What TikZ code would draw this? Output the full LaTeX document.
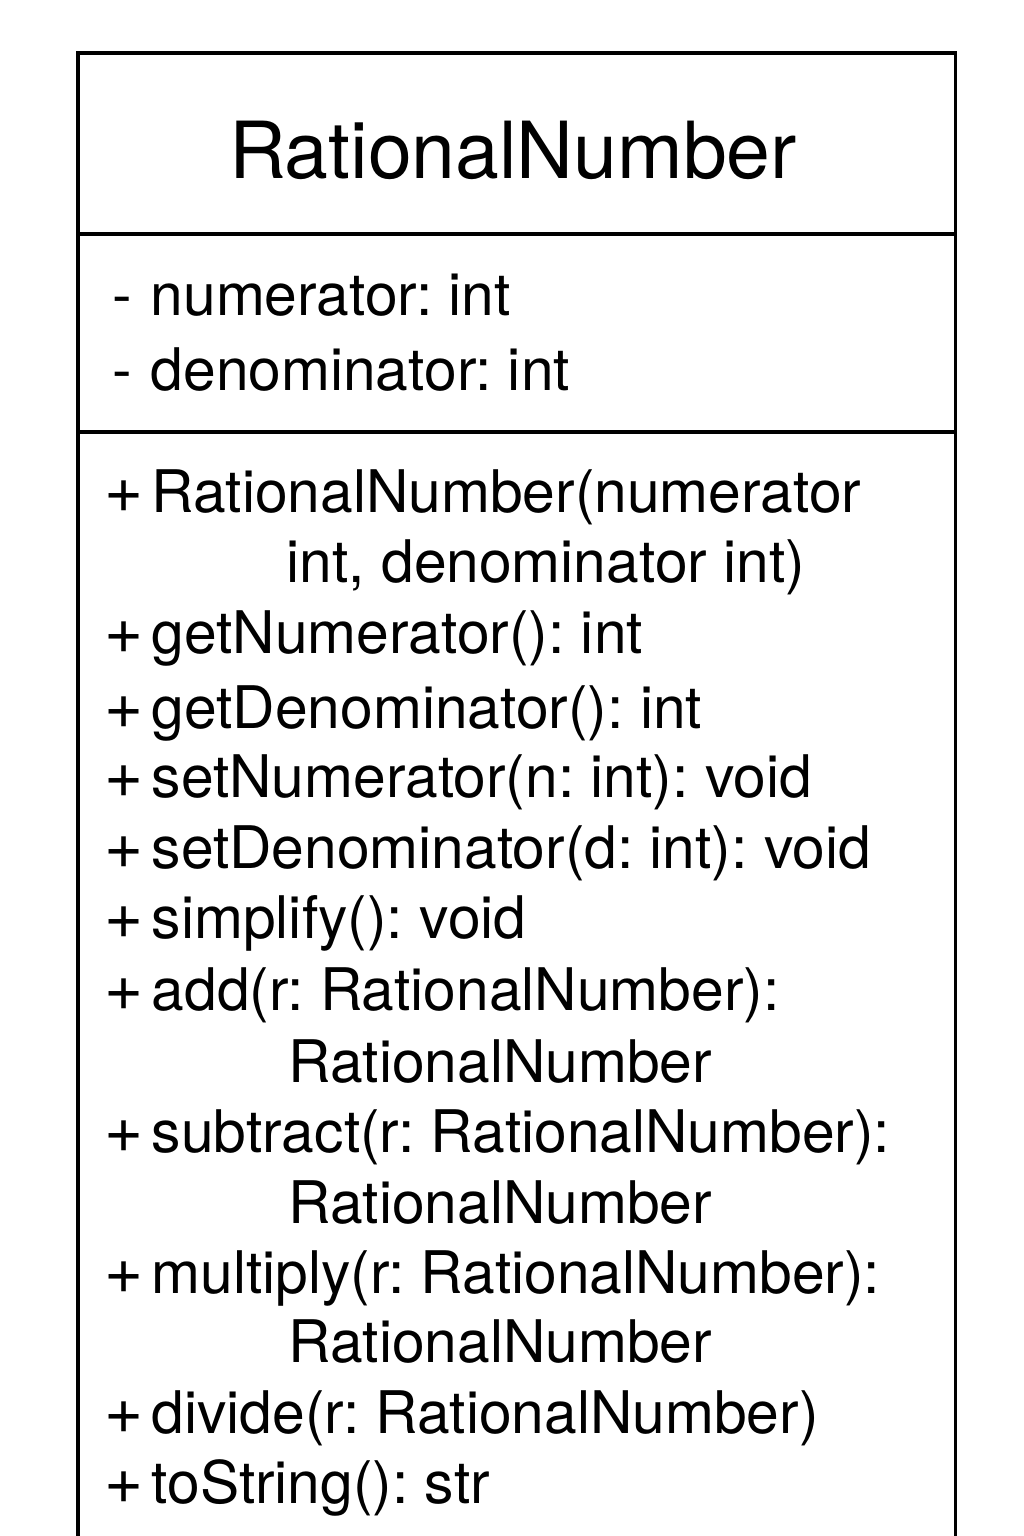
\documentclass[tikz,border=0pt]{standalone}
\usepackage{fontspec}
\setmainfont{TeX Gyre Heros}
\usetikzlibrary{positioning}

\frenchspacing
\newcommand{\visib}[2]{\makebox[#1][l]{#2}}
\newcommand{\pub}{\visib{0.47cm}{\fontsize{19}{19}\selectfont+}}
\newcommand{\priv}{\visib{0.38cm}{-}}

\begin{document}
\begin{tikzpicture}[
  x=0.01cm, y=-0.01cm,
  umlline/.style={line width=0.9pt, draw=black},
  classname/.style={
    font=\fontsize{22.4}{26}\selectfont,
    anchor=base,
    inner sep=0pt
  },
  member/.style={
    font=\fontsize{16.7}{19}\selectfont,
    anchor=base west,
    inner sep=0pt
  }
]
\useasboundingbox (0,0) rectangle (1024,1536);

% Class box (open at the bottom of the page).
\draw[umlline] (78,1536) -- (78,53) -- (955.5,53) -- (955.5,1536);
\draw[umlline] (78,234) -- (955.5,234);
\draw[umlline] (78,432) -- (955.5,432);

% Name compartment.
\node[classname] (cls) at (513,178) {RationalNumber};

% Attributes.
\node[member] (numattr) at (112,315) {\priv numerator: int};
\node[member] (denattr) at (112,390) {\priv denominator: int};

% Operations.
\node[member] (ctor) at (104,512) {\pub RationalNumber(numerator};
\node[member] (ctorb) at (286,582) {int, denominator int)};
\node[member] (getnum) at (104,653) {\pub getNumerator(): int};
\node[member] (getden) at (104,728) {\pub getDenominator(): int};
\node[member] (setnum) at (104,797) {\pub setNumerator(n: int): void};
\node[member] (setden) at (104,868) {\pub setDenominator(d: int): void};
\node[member] (simp) at (104,938) {\pub simplify(): void};
\node[member] (add) at (104,1010) {\pub add(r: RationalNumber):};
\node[member] (addb) at (288,1082) {RationalNumber};
\node[member] (sub) at (104,1152) {\pub subtract(r: RationalNumber):};
\node[member] (subb) at (288,1223) {RationalNumber};
\node[member] (mul) at (104,1293) {\pub multiply(r: RationalNumber):};
\node[member] (mulb) at (288,1362) {RationalNumber};
\node[member] (div) at (104,1433) {\pub divide(r: RationalNumber)};
\node[member] (tostr) at (104,1503) {\pub toString(): str};

\end{tikzpicture}
\end{document}
